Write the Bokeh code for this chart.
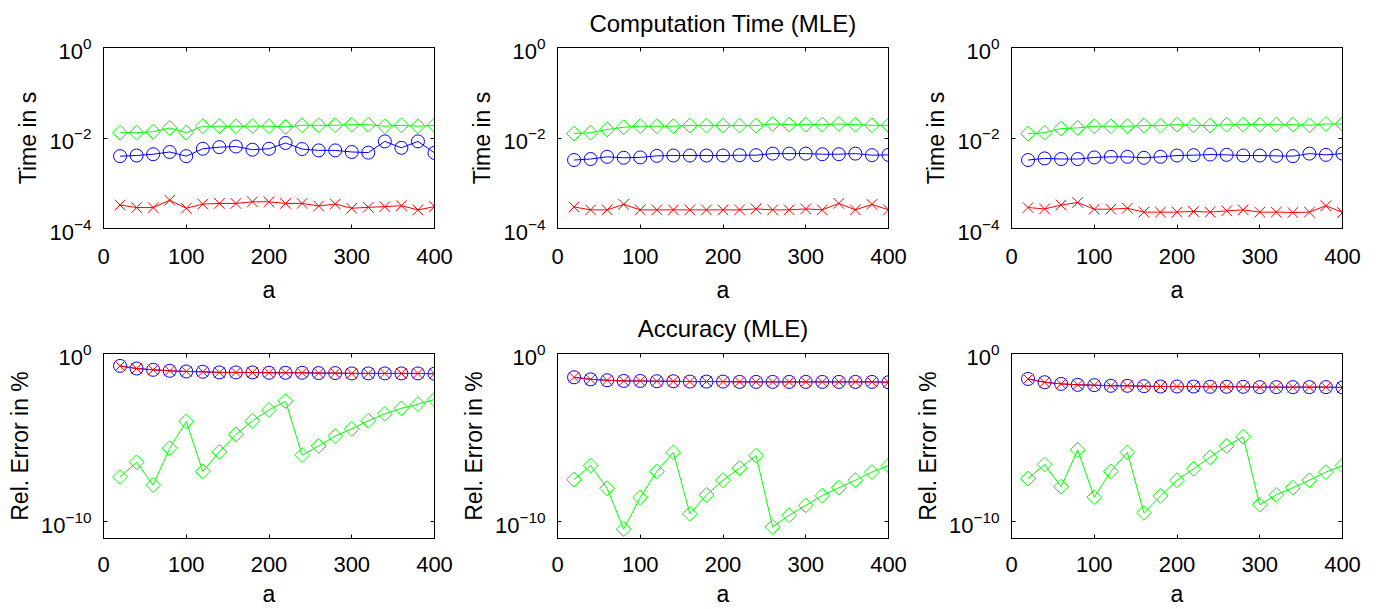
from bokeh.plotting import figure
from bokeh.models import (LogAxis, LinearAxis, FixedTicker, Range1d,
                          CustomJSTickFormatter)
from bokeh.layouts import column, row
from bokeh.embed import file_html
from bokeh.resources import INLINE

# ---------------- data ----------------
a_vals = [20, 40, 60, 80, 100, 120, 140, 160, 180, 200,
          220, 240, 260, 280, 300, 320, 340, 360, 380, 400]

# Computation time (s) -- three panels
time_green_1 = [0.0131, 0.0131, 0.0138, 0.0167, 0.0131, 0.0182, 0.0182, 0.0182, 0.0182, 0.0182,
                0.0176, 0.0191, 0.0191, 0.0191, 0.0197, 0.0197, 0.0182, 0.0191, 0.0182, 0.0191]
time_blue_1 = [0.00397, 0.0041, 0.00438, 0.00491, 0.00397, 0.00578, 0.00628, 0.00648, 0.00551, 0.00578,
               0.00776, 0.00569, 0.00532, 0.00532, 0.00491, 0.00475, 0.00842, 0.00607, 0.00842, 0.00468]
time_red_1 = [3.30e-4, 2.90e-4, 2.90e-4, 4.22e-4, 2.80e-4, 3.47e-4, 3.58e-4, 3.58e-4, 3.89e-4, 3.89e-4,
              3.58e-4, 3.58e-4, 3.14e-4, 3.47e-4, 2.80e-4, 2.94e-4, 3.04e-4, 3.19e-4, 2.58e-4, 3.04e-4]

time_green_2 = [0.0125, 0.0131, 0.0154, 0.0173, 0.0182, 0.0182, 0.0182, 0.0188, 0.0188, 0.0188,
                0.0188, 0.0188, 0.0204, 0.0197, 0.0197, 0.0197, 0.0204, 0.0197, 0.0191, 0.0191]
time_blue_2 = [0.00326, 0.00343, 0.00384, 0.00366, 0.00372, 0.00403, 0.0041, 0.0041, 0.0041, 0.0041,
               0.00417, 0.00417, 0.00452, 0.00452, 0.00452, 0.00438, 0.00438, 0.00452, 0.00417, 0.00424]
time_red_2 = [2.99e-4, 2.58e-4, 2.58e-4, 3.41e-4, 2.58e-4, 2.58e-4, 2.58e-4, 2.58e-4, 2.58e-4, 2.58e-4,
              2.58e-4, 2.71e-4, 2.58e-4, 2.58e-4, 2.71e-4, 2.58e-4, 3.58e-4, 2.58e-4, 3.41e-4, 2.58e-4]

time_green_3 = [0.0125, 0.0131, 0.0162, 0.0167, 0.0182, 0.0182, 0.0182, 0.0188, 0.0188, 0.0197,
                0.0191, 0.0188, 0.0197, 0.0197, 0.0197, 0.0197, 0.0197, 0.0191, 0.0204, 0.0204]
time_blue_3 = [0.00326, 0.00354, 0.00343, 0.00343, 0.00372, 0.00384, 0.00384, 0.00366, 0.00384, 0.0041,
               0.00417, 0.00431, 0.00424, 0.0041, 0.0041, 0.00403, 0.00397, 0.00452, 0.00424, 0.00452]
time_red_3 = [2.90e-4, 2.71e-4, 3.30e-4, 3.76e-4, 2.67e-4, 2.67e-4, 2.80e-4, 2.30e-4, 2.30e-4, 2.30e-4,
              2.38e-4, 2.30e-4, 2.46e-4, 2.58e-4, 2.30e-4, 2.30e-4, 2.26e-4, 2.30e-4, 3.19e-4, 2.26e-4]

# Relative error (%) -- three panels
err_blue_1 = [0.183, 0.128, 0.107, 0.0935, 0.0855, 0.0818, 0.0748, 0.0748, 0.0748, 0.0715,
              0.0715, 0.0715, 0.0684, 0.0684, 0.0654, 0.0654, 0.0654, 0.0654, 0.0654, 0.0625]
err_red_1 = [0.183, 0.128, 0.107, 0.0935, 0.0855, 0.0818, 0.0748, 0.0748, 0.0748, 0.0715,
             0.0715, 0.0715, 0.0684, 0.0684, 0.0654, 0.0654, 0.0654, 0.0654, 0.0654, 0.0625]
err_green_1 = [4.57e-8, 3.42e-7, 1.50e-8, 2.34e-6, 9.14e-5, 9.77e-8, 1.43e-6, 1.53e-5, 1.0e-4, 4.38e-4,
               1.46e-3, 9.14e-7, 3.20e-6, 1.22e-5, 3.27e-5, 1.0e-4, 2.56e-4, 5.47e-4, 9.77e-4, 1.83e-3]

err_blue_2 = [0.0383, 0.0292, 0.0256, 0.0234, 0.0234, 0.0224, 0.0224, 0.0214, 0.0214, 0.0214,
              0.0205, 0.0205, 0.0205, 0.0205, 0.0205, 0.0205, 0.0205, 0.0205, 0.0205, 0.0196]
err_red_2 = [0.0383, 0.0292, 0.0256, 0.0234, 0.0234, 0.0224, 0.0224, 0.0214, 0.0214, 0.0214,
             0.0205, 0.0205, 0.0205, 0.0205, 0.0205, 0.0205, 0.0205, 0.0205, 0.0205, 0.0196]
err_green_2 = [3.20e-8, 2.19e-7, 9.57e-9, 3.57e-11, 2.74e-9, 9.77e-8, 1.31e-6, 2.92e-10, 3.91e-9, 2.92e-8,
               1.53e-7, 8.36e-7, 4.89e-11, 2.44e-10, 9.35e-10, 3.57e-9, 1.05e-8, 2.92e-8, 8.93e-8, 2.19e-7]

err_blue_3 = [0.0306, 0.0196, 0.0156, 0.0137, 0.0131, 0.0120, 0.0120, 0.0114, 0.0109, 0.0109,
              0.0109, 0.0105, 0.0105, 0.0105, 0.0100, 0.0100, 0.0100, 0.0100, 0.0100, 0.00957]
err_red_3 = [0.0306, 0.0196, 0.0156, 0.0137, 0.0131, 0.0120, 0.0120, 0.0114, 0.0109, 0.0109,
             0.0109, 0.0105, 0.0105, 0.0105, 0.0100, 0.0100, 0.0100, 0.0100, 0.0100, 0.00957]
err_green_3 = [3.66e-8, 2.50e-7, 1.20e-8, 1.87e-6, 2.86e-9, 9.77e-8, 1.31e-6, 3.34e-10, 3.42e-9, 2.92e-8,
               1.40e-7, 6.68e-7, 3.20e-6, 1.12e-5, 1.02e-9, 3.91e-9, 1.05e-8, 2.92e-8, 8.93e-8, 2.19e-7]

x_ticks = [0, 100, 200, 300, 400]
time_ticks = [1e-4, 1e-2, 1]
err_ticks = [1e-10, 1]
time_label = "Time in s"
err_label = "Rel. Error in %"
x_label = "a"
title_time = "Computation Time (MLE)"
title_err = "Accuracy (MLE)"

FONT = "Liberation Sans"
GREEN, BLUE, RED = "#00ff00", "#0000ff", "#ff0000"
FRAME_W, FRAME_H = 331, 188


def empty_fmt():
    return CustomJSTickFormatter(code="return ''")


def panel(blue, red, green, ylo, yhi, yticks, ylabel, title,
          bl, br, bt, bb, xlab_gap, xtick_gap, title_gap):
    p = figure(width=bl + FRAME_W + br, height=bt + FRAME_H + bb,
               x_range=Range1d(0, 400), y_range=Range1d(ylo, yhi),
               y_axis_type="log", output_backend="svg", toolbar_location=None,
               min_border_left=bl, min_border_right=br,
               min_border_top=bt, min_border_bottom=bb,
               background_fill_color="white", border_fill_color="white")
    if title:
        p.title.text = title
        p.title.align = "center"
        p.title.vertical_align = "top"
        p.title.text_font = FONT
        p.title.text_font_size = "24px"
        p.title.text_font_style = "normal"
        p.title.text_color = "black"
        p.title.standoff = title_gap
    p.outline_line_color = "black"
    p.outline_line_width = 1
    p.grid.visible = False

    xa = p.xaxis[0]
    xa.ticker = FixedTicker(ticks=x_ticks)
    xa.axis_label = x_label
    ya = p.yaxis[0]
    ya.ticker = FixedTicker(ticks=yticks)
    ya.axis_label = ylabel
    for ax in (xa, ya):
        ax.major_tick_in = 4
        ax.major_tick_out = 0
        ax.minor_tick_in = 0
        ax.minor_tick_out = 0
        ax.axis_line_color = "black"
        ax.major_tick_line_color = "black"
        ax.major_label_text_font = FONT
        ax.major_label_text_font_size = "22px"
        ax.major_label_text_color = "black"
        ax.axis_label_text_font = FONT
        ax.axis_label_text_font_size = "23px"
        ax.axis_label_text_font_style = "normal"
        ax.axis_label_text_color = "black"
    xa.major_label_standoff = xtick_gap
    xa.axis_label_standoff = xlab_gap
    ya.major_label_standoff = 12
    ya.axis_label_standoff = 5

    # mirrored ticks (box style)
    top = LinearAxis(ticker=FixedTicker(ticks=x_ticks), formatter=empty_fmt(),
                     major_tick_in=4, major_tick_out=0, minor_tick_in=0, minor_tick_out=0,
                     major_label_standoff=0, major_label_text_font_size="0px",
                     axis_line_color="black")
    right = LogAxis(ticker=FixedTicker(ticks=yticks), formatter=empty_fmt(),
                    major_tick_in=4, major_tick_out=0, minor_tick_in=0, minor_tick_out=0,
                    major_label_standoff=0, major_label_text_font_size="0px",
                    axis_line_color="black")
    p.add_layout(top, "above")
    p.add_layout(right, "right")

    p.line(a_vals, blue, line_color=BLUE, line_width=1)
    p.scatter(a_vals, blue, marker="circle", size=13, line_color=BLUE, fill_color=None, line_width=1)
    p.line(a_vals, red, line_color=RED, line_width=1)
    p.scatter(a_vals, red, marker="x", size=15, line_color=RED, line_width=1)
    p.line(a_vals, green, line_color=GREEN, line_width=1)
    p.scatter(a_vals, green, marker="square", angle=0.785398, size=10.5,
              line_color=GREEN, fill_color=None, line_width=1)
    return p


p1 = panel(time_blue_1, time_red_1, time_green_1, 1e-4, 1, time_ticks, time_label, None,
           103, 20, 47, 70, 10, 20, 18)
p2 = panel(time_blue_2, time_red_2, time_green_2, 1e-4, 1, time_ticks, time_label, title_time,
           103, 20, 47, 70, 10, 20, 18)
p3 = panel(time_blue_3, time_red_3, time_green_3, 1e-4, 1, time_ticks, time_label, None,
           103, 20, 47, 70, 10, 20, 18)
p4 = panel(err_blue_1, err_red_1, err_green_1, 1e-11, 1, err_ticks, err_label, None,
           103, 20, 48, 68, 6, 18, 19)
p5 = panel(err_blue_2, err_red_2, err_green_2, 1e-11, 1, err_ticks, err_label, title_err,
           103, 20, 48, 68, 6, 18, 19)
p6 = panel(err_blue_3, err_red_3, err_green_3, 1e-11, 1, err_ticks, err_label, None,
           103, 20, 48, 68, 6, 18, 19)

layout = column(row(p1, p2, p3, spacing=0), row(p4, p5, p6, spacing=0), spacing=0)

open("out.html", "w").write(file_html(layout, INLINE))
